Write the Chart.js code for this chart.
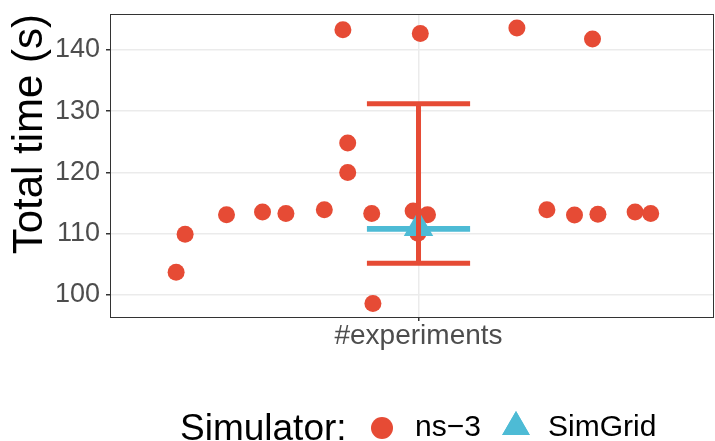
<!DOCTYPE html>
<html>
<head>
<meta charset="utf-8">
<script src="https://cdn.jsdelivr.net/npm/chart.js@4/dist/chart.umd.min.js"></script>
<style>
  body { margin: 0; background: #fff; }
  canvas { display: block; }
</style>
</head>
<body>
<canvas id="myChart" width="715" height="441"></canvas>
<script>
// data
const categories = ['#experiments']
const seriesNames = ['ns\u22123', 'SimGrid']
const legendTitle = 'Simulator:'

// ns-3 runs, jittered around the category (x = 1)
const ns3X = [0.596, 0.611, 0.680, 0.740, 0.779, 0.843, 0.874, 0.882, 0.882, 0.922, 0.924,
              0.991, 1.003, 1.015, 0.999, 1.164, 1.214, 1.260, 1.290, 1.299, 1.361, 1.387]
const ns3Y = [103.7, 109.9, 113.1, 113.55, 113.3, 113.9, 143.3, 124.8, 120.0, 113.3, 98.6,
              113.7, 142.7, 113.1, 110.1, 143.6, 113.9, 113.05, 141.8, 113.2, 113.55, 113.3]

const simgridX = [1]
const simgridY = [111.0]

// error bars: ns-3, SimGrid
const errLow = [105.2, 110.75]
const errHigh = [131.2, 110.85]

const yTicks = [100, 105, 110, 115, 120, 125, 130, 135, 140, 145]

const red = '#E64B35'
const blue = '#4DBBD5'
const capHalf = 0.086
const font = "'Liberation Sans', Arial, sans-serif"

function errorPath(i) {
  const c = 1
  return [
    {x: c - capHalf, y: errHigh[i]}, {x: c + capHalf, y: errHigh[i]},
    {x: c, y: null},
    {x: c, y: errHigh[i]}, {x: c, y: errLow[i]},
    {x: c, y: null},
    {x: c - capHalf, y: errLow[i]}, {x: c + capHalf, y: errLow[i]}
  ]
}

const legendPlugin = {
  id: 'ggLegend',
  afterDraw(chart) {
    const ctx = chart.ctx
    const a = chart.chartArea
    ctx.save()
    // panel border
    ctx.strokeStyle = '#333333'
    ctx.lineWidth = 1
    ctx.strokeRect(a.left + 0.5, a.top + 0.5, a.right - a.left - 1, a.bottom - a.top)

    ctx.fillStyle = '#000'
    ctx.textBaseline = 'alphabetic'
    ctx.font = '37px ' + font
    ctx.fillText(legendTitle, 180, 440)

    ctx.fillStyle = red
    ctx.beginPath(); ctx.arc(382, 428, 11, 0, Math.PI * 2); ctx.fill()

    ctx.fillStyle = '#000'
    ctx.font = '30px ' + font
    ctx.fillText(seriesNames[0], 415, 436)

    ctx.fillStyle = blue
    ctx.beginPath()
    Chart.helpers.drawPoint(ctx, {pointStyle: 'triangle', radius: 16, rotation: 0, borderWidth: 0},
      516, 427)
    ctx.fill()

    ctx.fillStyle = '#000'
    ctx.fillText(seriesNames[1], 548, 436)
    ctx.restore()
  }
}

const ctx = document.getElementById('myChart')

new Chart(ctx, {
  type: 'scatter',
  data: {
    datasets: [
      {
        label: 'ns-3 error',
        data: errorPath(0),
        showLine: true,
        borderColor: red,
        borderWidth: 5,
        pointRadius: 0,
        spanGaps: false
      },
      {
        label: 'SimGrid error',
        data: errorPath(1),
        showLine: true,
        borderColor: blue,
        borderWidth: 5,
        pointRadius: 0,
        spanGaps: false
      },
      {
        label: seriesNames[1],
        data: simgridX.map((x, i) => ({x: x, y: simgridY[i]})),
        pointStyle: 'triangle',
        pointRadius: 17,
        backgroundColor: blue,
        borderWidth: 0
      },
      {
        label: seriesNames[0],
        data: ns3X.map((x, i) => ({x: x, y: ns3Y[i]})),
        pointRadius: 8.5,
        backgroundColor: red,
        borderWidth: 0
      }
    ]
  },
  options: {
    responsive: false,
    animation: false,
    // no room kept for point overflow, the panel goes to the edge
    layout: { autoPadding: false, padding: { top: 14, right: 1, bottom: 0, left: 0 } },
    plugins: {
      legend: { display: false },
      tooltip: { enabled: false }
    },
    scales: {
      x: {
        type: 'linear',
        min: 0.4858,
        max: 1.4925,
        afterBuildTicks: (scale) => { scale.ticks = categories.map((c, i) => ({value: i + 1})) },
        afterFit: (scale) => {
          scale.height = 124
          scale.paddingLeft = 0
          scale.paddingRight = 0
        },
        ticks: {
          callback: (v) => categories[Math.round(v) - 1],
          color: '#4D4D4D',
          font: { family: font, size: 28 },
          padding: -2,
          maxRotation: 0
        },
        grid: { color: '#EBEBEB', lineWidth: 1.5, tickColor: '#333333', tickLength: 4 },
        border: { display: false }
      },
      y: {
        min: 96.41,
        max: 145.87,
        afterBuildTicks: (scale) => { scale.ticks = yTicks.map(v => ({value: v})) },
        afterFit: (scale) => {
          scale.width = 110
          scale.paddingTop = 0
          scale.paddingBottom = 0
        },
        ticks: {
          callback: (v) => (v % 10 === 0 ? v : ''),
          color: '#4D4D4D',
          font: { family: font, size: 27 },
          padding: 6
        },
        grid: {
          color: (c) => (c.tick && c.tick.value % 10 === 0 ? '#EBEBEB' : '#F3F3F3'),
          lineWidth: (c) => (c.tick && c.tick.value % 10 === 0 ? 1.5 : 1),
          tickColor: (c) => (c.tick && c.tick.value % 10 === 0 ? '#333333' : 'rgba(0,0,0,0)'),
          tickLength: 4
        },
        border: { display: false },
        title: {
          display: true,
          text: 'Total time (s)',
          align: 'end',
          color: '#000',
          font: { family: font, size: 42 },
          padding: { top: 5, bottom: 0 }
        }
      }
    }
  },
  plugins: [legendPlugin]
})
</script>
</body>
</html>
